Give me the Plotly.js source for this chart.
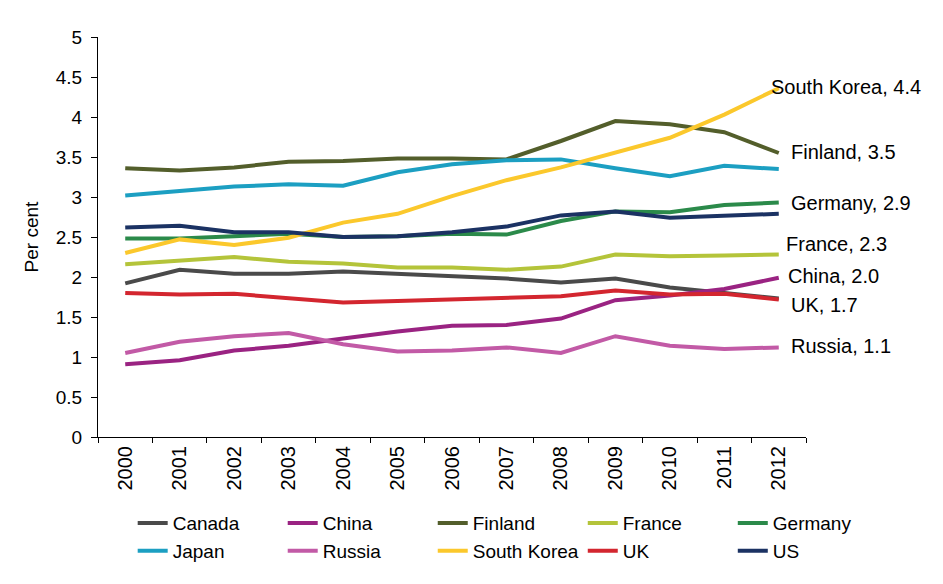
<!DOCTYPE html>
<html>
<head>
<meta charset="utf-8">
<script src="https://cdn.plot.ly/plotly-3.0.1.min.js"></script>
<style>html,body{margin:0;padding:0;background:#fff;}#chart{width:943px;height:584px;}</style>
</head>
<body>
<div id="chart"></div>
<script>
var years = ['2000','2001','2002','2003','2004','2005','2006','2007','2008','2009','2010','2011','2012'];
var canada  = [1.92, 2.09, 2.04, 2.04, 2.07, 2.04, 2.02, 1.98, 1.93, 1.98, 1.87, 1.80, 1.73];
var china   = [0.91, 0.96, 1.08, 1.14, 1.23, 1.32, 1.39, 1.40, 1.48, 1.71, 1.77, 1.85, 1.99];
var finland = [3.36, 3.33, 3.37, 3.44, 3.45, 3.48, 3.48, 3.47, 3.70, 3.95, 3.91, 3.81, 3.55];
var france  = [2.16, 2.21, 2.25, 2.19, 2.17, 2.12, 2.12, 2.09, 2.13, 2.28, 2.26, 2.27, 2.28];
var germany = [2.48, 2.48, 2.51, 2.54, 2.50, 2.51, 2.54, 2.53, 2.70, 2.82, 2.81, 2.90, 2.93];
var japan   = [3.02, 3.08, 3.13, 3.16, 3.14, 3.31, 3.41, 3.46, 3.47, 3.36, 3.26, 3.39, 3.35];
var russia  = [1.05, 1.19, 1.26, 1.30, 1.16, 1.07, 1.08, 1.12, 1.05, 1.26, 1.14, 1.10, 1.12];
var skorea  = [2.30, 2.47, 2.40, 2.49, 2.68, 2.79, 3.01, 3.21, 3.37, 3.56, 3.74, 4.03, 4.36];
var uk      = [1.80, 1.78, 1.79, 1.74, 1.68, 1.70, 1.72, 1.75, 1.76, 1.83, 1.78, 1.79, 1.72];
var us      = [2.62, 2.64, 2.56, 2.56, 2.50, 2.51, 2.56, 2.63, 2.77, 2.82, 2.74, 2.76, 2.79];

var endLabels = ['South Korea, 4.4','Finland, 3.5','Germany, 2.9','France, 2.3','China, 2.0','UK, 1.7','Russia, 1.1'];

var FONT = 'Liberation Sans, Arial, sans-serif';
var series = [
  {name:'Canada', y:canada, color:'#4a4a4a', legend:'legend'},
  {name:'China', y:china, color:'#9a2382', legend:'legend2'},
  {name:'Finland', y:finland, color:'#535e2b', legend:'legend3'},
  {name:'France', y:france, color:'#b4c43a', legend:'legend4'},
  {name:'Germany', y:germany, color:'#2b8a4a', legend:'legend5'},
  {name:'Japan', y:japan, color:'#1c9fc2', legend:'legend'},
  {name:'Russia', y:russia, color:'#c25aa6', legend:'legend2'},
  {name:'South Korea', y:skorea, color:'#fbc82c', legend:'legend3'},
  {name:'UK', y:uk, color:'#d3262f', legend:'legend4'},
  {name:'US', y:us, color:'#1b3263', legend:'legend5'}
];
var traces = series.map(function(s){
  return {type:'scatter', mode:'lines', name:s.name, x:years, y:s.y, legend:s.legend,
          line:{color:s.color, width:4}, hoverinfo:'name+y'};
});

var lx0 = 0.0490, ldx = 0.2119, ly = -0.168;
function leg(i){
  return {x: lx0 + i*ldx, y: ly, xanchor:'left', yanchor:'top', orientation:'v',
          bgcolor:'rgba(0,0,0,0)', borderwidth:0, font:{family:FONT, size:19, color:'#000'},
          itemwidth:30, tracegroupgap:0};
}

var annPos = [
  {t:0, y:4.375, xs:-10},
  {t:1, y:3.5625, xs:10},
  {t:2, y:2.925, xs:10},
  {t:3, y:2.4125, xs:5},
  {t:4, y:2.0125, xs:7},
  {t:5, y:1.65, xs:10},
  {t:6, y:1.1375, xs:10}
];
var annotations = annPos.map(function(a){
  return {text:endLabels[a.t], x:12, y:a.y, xref:'x', yref:'y', xanchor:'left', yanchor:'middle',
          xshift:a.xs, showarrow:false, font:{family:FONT, size:20, color:'#000'}};
});

var layout = {
  width:943, height:584,
  margin:{l:98, r:137, t:37, b:147},
  paper_bgcolor:'#fff', plot_bgcolor:'#fff',
  font:{family:FONT, size:19, color:'#000'},
  showlegend:true,
  legend:leg(0), legend2:leg(1), legend3:leg(2), legend4:leg(3), legend5:leg(4),
  xaxis:{type:'category', range:[-0.5,12.5], showgrid:false, zeroline:false,
         showline:true, linecolor:'#000', linewidth:1,
         ticks:'outside', ticklen:5, tickcolor:'#000', tickson:'boundaries',
         tickangle:-90, tickfont:{family:FONT, size:20, color:'#000'}, fixedrange:true},
  yaxis:{range:[0,5], dtick:0.5, tick0:0, showgrid:false, zeroline:false,
         showline:true, linecolor:'#000', linewidth:1,
         ticks:'outside', ticklen:6, tickcolor:'#000', ticklabelstandoff:5,
         tickfont:{family:FONT, size:19, color:'#000'},
         title:{text:'Per cent', font:{family:FONT, size:19, color:'#000'}, standoff:12},
         fixedrange:true},
  annotations:annotations
};

Plotly.newPlot('chart', traces, layout, {displayModeBar:false, staticPlot:true});
</script>
</body>
</html>
